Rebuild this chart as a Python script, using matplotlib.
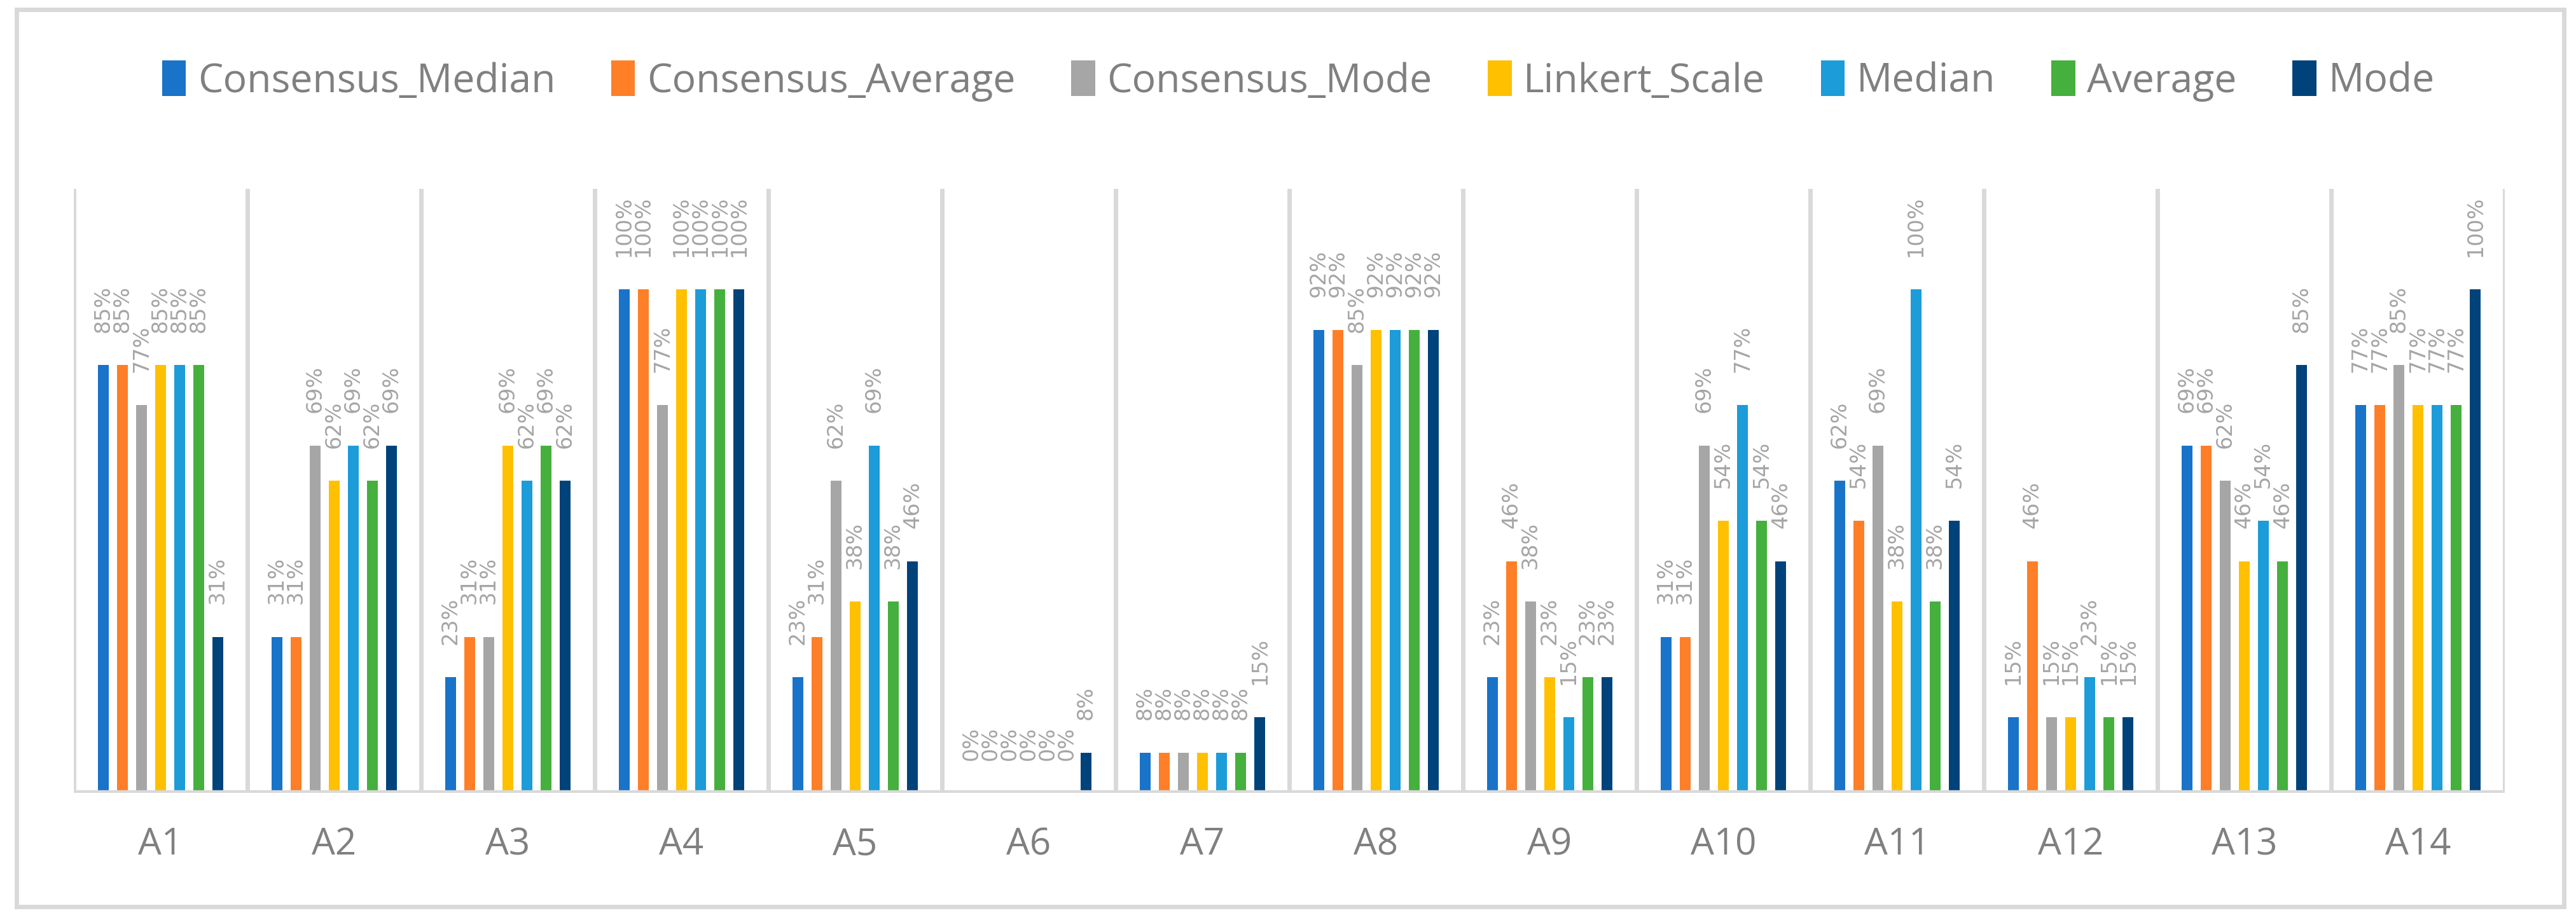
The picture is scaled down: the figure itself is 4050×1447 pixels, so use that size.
import matplotlib
matplotlib.use("Agg")
import matplotlib.pyplot as plt
import numpy as np
from matplotlib.patches import Rectangle

categories = ["A1", "A2", "A3", "A4", "A5", "A6", "A7",
              "A8", "A9", "A10", "A11", "A12", "A13", "A14"]
series_names = ["Consensus_Median", "Consensus_Average", "Consensus_Mode",
                "Linkert_Scale", "Median", "Average", "Mode"]

consensus_median = [85, 31, 23, 100, 23, 0, 8, 92, 23, 31, 62, 15, 69, 77]
consensus_average = [85, 31, 31, 100, 31, 0, 8, 92, 46, 31, 54, 46, 69, 77]
consensus_mode = [77, 69, 31, 77, 62, 0, 8, 85, 38, 69, 69, 15, 62, 85]
linkert_scale = [85, 62, 69, 100, 38, 0, 8, 92, 23, 54, 38, 15, 46, 77]
median = [85, 69, 62, 100, 69, 0, 8, 92, 15, 77, 100, 23, 54, 77]
average = [85, 62, 69, 100, 38, 0, 8, 92, 23, 54, 38, 15, 46, 77]
mode = [31, 69, 62, 100, 46, 8, 15, 92, 23, 46, 54, 15, 85, 100]

colors = ["#1873c9", "#fe7f28", "#a6a6a6", "#ffc000", "#1c9cd8", "#45b03d", "#00437b"]

all_series = [consensus_median, consensus_average, consensus_mode,
              linkert_scale, median, average, mode]

fig = plt.figure(figsize=(40.5, 14.47), dpi=100)
ax = fig.add_axes([0.0286, 0.1382, 0.9437, 0.6566])

x = np.arange(len(categories))
pitch = 0.11
width = 0.062
for i, (vals, name, col) in enumerate(zip(all_series, series_names, colors)):
    v = np.array(vals) / 100
    pos = x + (i - 3) * pitch
    ax.bar(pos, v, width=width, color=col, label=name, zorder=3)
    for px, py in zip(pos, v):
        ax.annotate(f"{int(round(py * 100))}%", (px, py), xytext=(0, 37),
                    textcoords="offset points", rotation=90, ha="center",
                    va="bottom", fontsize=24, color="#a5a5a5",
                    family="DejaVu Sans")

# group separators and base line
for b in np.arange(len(categories) + 1) - 0.5:
    ax.axvline(b, color="#d9d9d9", lw=5, zorder=1)
ax.axhline(0, color="#d9d9d9", lw=6, zorder=4)

ax.set_xlim(-0.5, len(categories) - 0.5)
ax.set_ylim(0, 1.2)
ax.set_yticks([])
ax.set_xticks(x)
ax.set_xticklabels(categories, fontsize=42, color="#808080", family="Open Sans")
ax.tick_params(axis="x", length=0, pad=38)
for s in ax.spines.values():
    s.set_visible(False)
ax.patch.set_alpha(0)

handles, labels = ax.get_legend_handles_labels()
fig.legend(handles, labels, loc="center", bbox_to_anchor=(0.504, 0.912),
           ncol=7, frameon=False, prop={"family": "Open Sans", "size": 45},
           labelcolor="#808080", handlelength=0.6, handleheight=1.0,
           handletextpad=0.3, columnspacing=1.4)

# chart frame
fig.patches.append(Rectangle((26 / 4050, 1 - 1426 / 1447), 4005 / 4050, 1411 / 1447,
                             transform=fig.transFigure, fill=False,
                             edgecolor="#d9d9d9", lw=5))

fig.savefig("out.png", dpi=100, facecolor="white")
